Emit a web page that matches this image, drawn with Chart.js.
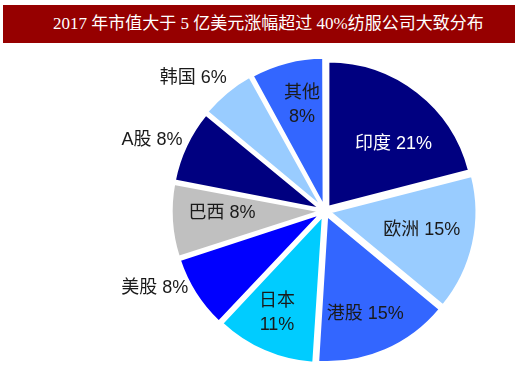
<!DOCTYPE html>
<html>
<head>
<meta charset="utf-8">
<script src="https://cdn.jsdelivr.net/npm/chart.js@4"></script>
<style>
  html, body { margin: 0; padding: 0; background: #ffffff; }
  #wrap { position: relative; width: 520px; height: 365px; overflow: hidden; }
  #title {
    position: absolute; left: 3px; top: 5px; width: 512px; height: 38px;
    background: #960000; color: #ffffff; z-index: 2;
    font: 17px "Liberation Serif", "Noto Sans CJK SC", serif;
    line-height: 38px; box-sizing: border-box; padding-left: 50px; white-space: nowrap;
  }
  #c { position: absolute; left: 0; top: 0; }
</style>
</head>
<body>
<div id="wrap">
  <div id="title">2017 年市值大于 5 亿美元涨幅超过 40%纺服公司大致分布</div>
  <canvas id="c" width="520" height="365"></canvas>
</div>
<script>
const categories = ["印度", "欧洲", "港股", "日本", "美股", "巴西", "A股", "韩国", "其他"];
const shares = [21, 15, 15, 11, 8, 8, 8, 6, 8];
const sliceColors = ["#000080", "#99ccff", "#3366ff", "#00ccff", "#0000ff", "#c0c0c0", "#000080", "#99ccff", "#3366ff"];

// label placement: distance as fraction of radius, angle tweak (deg), two-line flag, text colour
const labelPlacement = [
  { r: 0.66, da: 8,    split: false, color: "#ffffff" },
  { r: 0.68, da: -1.4, split: false, color: "#1a1a1a" },
  { r: 0.76, da: 2,    split: false, color: "#1a1a1a" },
  { r: 0.78, da: 1.7,  split: true,  color: "#1a1a1a" },
  { r: 1.29, da: 8,    split: false, color: "#1a1a1a" },
  { r: 0.71, da: 2.5,  split: false, color: "#1a1a1a" },
  { r: 1.29, da: -2.8, split: false, color: "#1a1a1a" },
  { r: 1.29, da: -5.2, split: false, color: "#1a1a1a" },
  { r: 0.745, da: 2.1, split: true,  color: "#1a1a1a" }
];

const labelPlugin = {
  id: 'sliceLabels',
  afterDatasetsDraw(chart) {
    const ctx = chart.ctx;
    const meta = chart.getDatasetMeta(0);
    ctx.save();
    ctx.font = '18px "Liberation Sans", "Noto Sans CJK SC", sans-serif';
    ctx.textAlign = 'center';
    ctx.textBaseline = 'middle';
    meta.data.forEach((arc, i) => {
      const p = arc.getProps(['x', 'y', 'startAngle', 'endAngle', 'outerRadius'], true);
      const lp = labelPlacement[i];
      const a = (p.startAngle + p.endAngle) / 2 + lp.da * Math.PI / 180;
      const d = p.outerRadius * lp.r;
      const x = p.x + Math.cos(a) * d;
      const y = p.y + Math.sin(a) * d;
      const pct = chart.data.datasets[0].data[i] + '%';
      const name = chart.data.labels[i];
      ctx.fillStyle = lp.color;
      if (lp.split) {
        ctx.fillText(name, x, y - 12);
        ctx.fillText(pct, x, y + 12);
      } else {
        ctx.fillText(name + ' ' + pct, x, y);
      }
    });
    ctx.restore();
  }
};

new Chart(document.getElementById('c'), {
  type: 'pie',
  data: {
    labels: categories,
    datasets: [{
      data: shares,
      backgroundColor: sliceColors,
      borderColor: '#ffffff',
      borderWidth: 2,
      offset: 22,
      radius: 145
    }]
  },
  options: {
    responsive: false,
    animation: false,
    layout: { padding: { left: 165, top: 57, right: 35, bottom: 0 } },
    plugins: { legend: { display: false }, tooltip: { enabled: false }, title: { display: false } }
  },
  plugins: [labelPlugin]
});
</script>
</body>
</html>
